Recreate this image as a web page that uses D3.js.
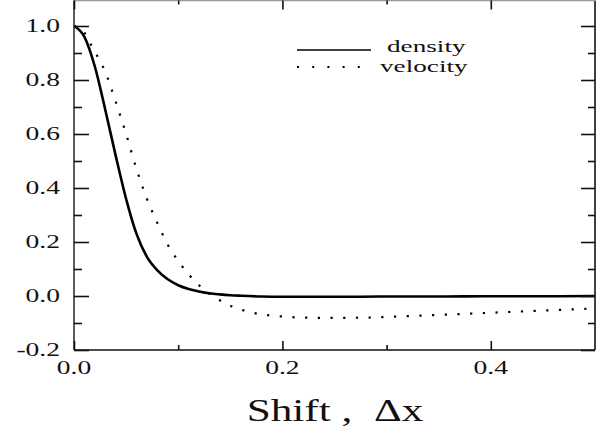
<!DOCTYPE html>
<html><head><meta charset="utf-8">
<script src="https://cdn.jsdelivr.net/npm/d3@7"></script>
<style>body{margin:0;background:#fff}svg{display:block}text{font-family:"Liberation Serif","Times New Roman",serif;fill:#111}</style>
</head><body><svg id="c" width="601" height="429"></svg>
<script>
const densityX = [0,0.01,0.02,0.03,0.04,0.05,0.06,0.07,0.08,0.09,0.10,0.11,0.12,0.13,0.14,0.15,0.16,0.18,0.20,0.25,0.30,0.35,0.40,0.45,0.50];
const densityY = [1.0,0.96,0.85,0.69,0.52,0.36,0.23,0.145,0.095,0.062,0.040,0.026,0.017,0.010,0.006,0.003,0.001,-0.002,-0.003,-0.003,-0.002,-0.002,-0.001,-0.001,0.0];
const velocityX = [0,0.005,0.01,0.015,0.02,0.03,0.04,0.05,0.06,0.07,0.08,0.09,0.10,0.11,0.12,0.13,0.14,0.15,0.16,0.17,0.18,0.19,0.20,0.22,0.25,0.28,0.31,0.35,0.40,0.45,0.50];
const velocityY = [1.0,0.995,0.975,0.94,0.905,0.83,0.72,0.60,0.47,0.36,0.27,0.19,0.13,0.08,0.04,0.008,-0.016,-0.036,-0.05,-0.061,-0.068,-0.073,-0.076,-0.080,-0.081,-0.080,-0.076,-0.070,-0.062,-0.054,-0.046];
const xMajor = [0.0,0.2,0.4];
const xMinor = [0.1,0.3];
const yMajor = [-0.2,0.0,0.2,0.4,0.6,0.8,1.0];
const yMinor = [-0.1,0.1,0.3,0.5,0.7,0.9];
const legendLabels = ["density","velocity"];
const xTitle = "Shift ,\u00a0\u00a0\u0394x";

const svg = d3.select("#c");
const L=74,R=595,B=350;
const x = d3.scaleLinear().domain([0,0.5]).range([L,R]);
const y = d3.scaleLinear().domain([-0.2,1.0]).range([B,26]);
const T = 0.5;

const line = d3.line().x(d=>x(d[0])).y(d=>y(d[1])).curve(d3.curveMonotoneX);
const dens = densityX.map((v,i)=>[v,densityY[i]]);
const vel = velocityX.map((v,i)=>[v,velocityY[i]]);

svg.append("path").attr("d",line(vel)).attr("fill","none").attr("stroke","#000")
  .attr("stroke-width",2.2).attr("stroke-dasharray","2.2 10.5");
svg.append("path").attr("d",line(dens)).attr("fill","none").attr("stroke","#000").attr("stroke-width",2.6);

const fr = svg.append("g").attr("stroke-width",1.6).attr("fill","none");
fr.append("line").attr("x1",L).attr("x2",L).attr("y1",T).attr("y2",B).attr("stroke","#333");
fr.append("line").attr("x1",L).attr("x2",R).attr("y1",B).attr("y2",B).attr("stroke","#111");
fr.append("line").attr("x1",R).attr("x2",R).attr("y1",T).attr("y2",B).attr("stroke","#111");
fr.append("line").attr("x1",L).attr("x2",R).attr("y1",T).attr("y2",T).attr("stroke","#999");

const ax = (g)=>g.selectAll(".domain").remove();
svg.append("g").attr("transform",`translate(${L},0)`).call(d3.axisRight(y).tickValues(yMajor).tickSize(15).tickFormat("")).call(ax);
svg.append("g").attr("transform",`translate(${L},0)`).call(d3.axisRight(y).tickValues(yMinor).tickSize(8).tickFormat("")).call(ax);
svg.append("g").attr("transform",`translate(${R},0)`).call(d3.axisLeft(y).tickValues(yMajor).tickSize(14).tickFormat("")).call(ax);
svg.append("g").attr("transform",`translate(${R},0)`).call(d3.axisLeft(y).tickValues(yMinor).tickSize(7).tickFormat("")).call(ax);
svg.append("g").attr("transform",`translate(0,${B})`).call(d3.axisTop(x).tickValues(xMajor).tickSize(9).tickFormat("")).call(ax);
svg.append("g").attr("transform",`translate(0,${B})`).call(d3.axisTop(x).tickValues(xMinor).tickSize(5).tickFormat("")).call(ax);
svg.append("g").attr("transform",`translate(0,${T})`).call(d3.axisBottom(x).tickValues(xMajor).tickSize(9).tickFormat("")).call(ax);
svg.append("g").attr("transform",`translate(0,${T})`).call(d3.axisBottom(x).tickValues(xMinor).tickSize(4).tickFormat("")).call(ax);
svg.selectAll(".tick line").attr("stroke","#111").attr("stroke-width",1.6);

const fs=19, sx=1.45;
yMajor.forEach(v=>{
  svg.append("text").attr("transform",`translate(60,${y(v)+6.3}) scale(${sx},1)`)
    .attr("text-anchor","end").style("font-size",fs+"px").text(v.toFixed(1));
});
xMajor.forEach(v=>{
  svg.append("text").attr("transform",`translate(${x(v)},${374}) scale(${sx},1)`)
    .attr("text-anchor","middle").style("font-size",fs+"px").text(v.toFixed(1));
});
svg.append("text").attr("transform",`translate(335,421) scale(1.35,1)`).attr("text-anchor","middle")
  .style("font-size","32px").text(xTitle);

// legend
svg.append("line").attr("x1",297).attr("x2",371).attr("y1",50).attr("y2",50).attr("stroke","#000").attr("stroke-width",1.5);
svg.append("line").attr("x1",297).attr("x2",362).attr("y1",67).attr("y2",67).attr("stroke","#000").attr("stroke-width",2).attr("stroke-dasharray","2 13.2");
svg.append("text").attr("transform",`translate(387,52) scale(1.6,1)`).style("font-size","17px").text(legendLabels[0]);
svg.append("text").attr("transform",`translate(380,72) scale(1.6,1)`).style("font-size","17px").text(legendLabels[1]);
</script></body></html>
